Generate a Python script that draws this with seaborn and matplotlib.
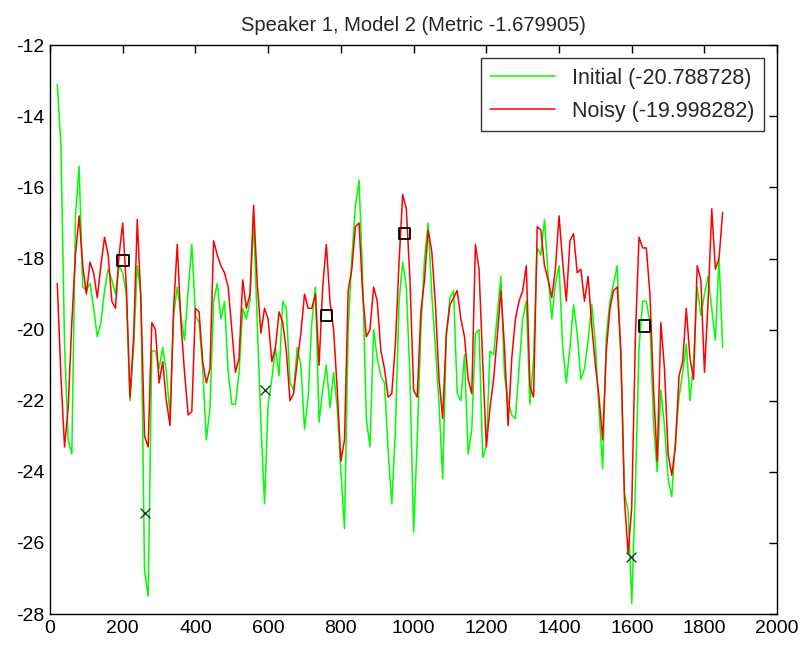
import numpy as np
import pandas as pd
import matplotlib
matplotlib.use("Agg")
import matplotlib.pyplot as plt
import seaborn as sns

# sample positions (frame index)
frames = np.arange(20, 1851, 10)

initial_vals = [
    -13.1, -14.8, -20.4, -23.1, -23.5, -16.8, -15.4, -18.8, -18.9, -18.7, -19.4, -20.2, -19.8, -18.9, -18.3, -18.6, -19.0, -18.2, -18.4, -19.0, -22.0,
    -20.5, -18.2, -19.0, -26.8, -27.5, -20.6, -20.6, -21.1, -20.5, -21.2, -22.4, -19.6, -18.8, -19.6, -20.3, -18.9, -17.6, -19.6, -19.8, -21.1, -23.1, -22.2, -19.2, -18.7, -19.7,
    -19.2, -21.2, -22.1, -22.1, -21.2, -19.4, -19.7, -19.2, -16.9, -19.8, -22.6, -24.9, -22.1, -21.4, -20.5, -21.3, -19.2, -19.4, -21.5, -21.7, -20.5, -21.0, -22.8, -21.9,
    -19.8, -18.8, -22.6, -21.7, -21.0, -22.2, -21.2, -22.2, -24.0, -25.6, -20.0, -18.0, -16.5, -15.8, -18.6, -22.5, -23.3, -20.0, -20.8, -21.3, -21.5, -23.4, -24.9, -22.8, -19.2,
    -18.1, -18.8, -21.3, -25.7, -23.1, -20.0, -18.0, -17.0, -19.0, -20.5, -22.1, -24.2, -20.2, -19.1, -18.9, -21.8, -22.0, -20.7, -23.5, -22.8, -20.1, -20.0, -23.6, -23.3, -20.6,
    -20.7, -19.6, -18.5, -21.3, -22.0, -22.4, -22.5, -21.1, -19.7, -19.2, -22.1, -20.8, -17.7, -17.9, -16.9, -18.5, -19.7, -18.7, -18.2, -20.5, -21.5, -20.5, -19.3, -20.1, -21.4,
    -21.1, -20.3, -19.3, -20.4, -22.3, -23.9, -20.2, -19.2, -18.7, -18.2, -20.8, -24.6, -25.1, -27.7, -24.4, -20.5, -19.2, -19.2, -19.8, -22.7, -24.0, -21.7, -22.7, -24.2, -24.7,
    -23.1, -21.9, -21.2, -20.4, -22.0, -20.9, -18.8, -19.6, -19.0, -18.5, -19.4, -20.3, -18.0, -20.5,
]

noisy_vals = [
    -18.7, -21.3, -23.3, -22.2, -19.8, -17.9, -16.8, -18.2, -19.0, -18.1, -18.4, -19.1, -18.2, -17.4, -17.9, -19.2, -19.4, -17.9, -17.0, -18.8, -21.9,
    -20.2, -16.9, -19.2, -23.0, -23.3, -19.8, -20.0, -21.5, -20.9, -22.0, -22.7, -19.4, -17.6, -19.8, -21.2, -22.4, -22.3, -19.4, -19.5, -20.9, -21.5, -21.1, -17.5, -17.9, -18.2,
    -18.4, -18.8, -20.0, -21.2, -20.8, -18.6, -19.4, -19.0, -16.5, -18.7, -20.1, -19.4, -19.7, -20.9, -20.5, -19.5, -19.8, -20.6, -22.0, -21.8, -20.9, -20.1, -19.0, -19.4,
    -19.4, -19.0, -21.0, -18.8, -17.6, -19.2, -20.0, -21.7, -23.7, -23.1, -18.9, -18.3, -17.1, -17.0, -19.0, -20.2, -20.0, -18.8, -19.2, -20.6, -21.1, -21.9, -21.8, -20.4, -18.1,
    -16.2, -16.6, -18.6, -21.7, -21.9, -19.5, -18.6, -17.2, -17.8, -19.3, -21.4, -22.5, -20.1, -19.3, -19.1, -18.9, -19.7, -20.2, -21.4, -21.8, -17.6, -18.3, -20.9, -23.3, -22.2,
    -21.4, -20.2, -18.9, -20.5, -22.7, -20.8, -19.7, -19.2, -18.9, -18.2, -21.6, -21.9, -17.1, -17.2, -18.2, -18.6, -19.1, -18.3, -16.8, -18.1, -19.2, -17.5, -17.3, -18.4, -18.3,
    -19.2, -18.5, -19.9, -21.0, -21.9, -23.1, -20.6, -19.4, -18.9, -18.8, -20.6, -24.8, -26.3, -25.0, -20.2, -17.4, -17.7, -17.7, -19.0, -21.7, -23.7, -19.8, -21.1, -23.5, -24.1,
    -23.3, -21.3, -20.9, -19.4, -20.8, -21.4, -18.2, -18.6, -21.2, -19.2, -16.6, -18.3, -18.0, -16.7,
]

# marked points
square_x = [200, 760, 975, 1635]
square_y = [-18.05, -19.6, -17.3, -19.9]
cross_x = [262, 590, 1598]
cross_y = [-25.15, -21.7, -26.4]

initial_score = -20.788728
noisy_score = -19.998282
metric = -1.679905

df = pd.DataFrame({"frame": frames, "initial": initial_vals, "noisy": noisy_vals})

sns.set_theme(style="white")
plt.rcParams["font.family"] = ["Liberation Sans", "DejaVu Sans"]
plt.rcParams["axes.unicode_minus"] = False

fig = plt.figure(figsize=(8, 6.47), dpi=100)
ax = fig.add_axes([0.0625, 0.051, 0.909, 0.879])

sns.lineplot(data=df, x="frame", y="initial", color="#00ff00", linewidth=1.1,
             label=f"Initial ({initial_score:.6f})", ax=ax)
sns.lineplot(data=df, x="frame", y="noisy", color="#ff0000", linewidth=1.1,
             label=f"Noisy ({noisy_score:.6f})", ax=ax)

sns.scatterplot(x=square_x, y=square_y, marker="s", s=70, facecolor="none",
                edgecolor="black", linewidth=1.3, ax=ax, zorder=5)
sns.scatterplot(x=cross_x, y=cross_y, marker="x", s=50, color="#333333",
                linewidth=1.0, ax=ax, zorder=5)

ax.set_xlim(0, 2000)
ax.set_ylim(-28, -12)
ax.set_xticks(range(0, 2001, 200))
ax.set_yticks(range(-28, -11, 2))
ax.set_xlabel("")
ax.set_ylabel("")
ax.set_title(f"Speaker 1, Model 2 (Metric {metric:.6f})", fontsize=14.5, pad=10)
ax.tick_params(direction="in", top=True, right=True, length=6, width=1,
               labelsize=14, colors="black", pad=4)
for sp in ax.spines.values():
    sp.set_color("black")
    sp.set_linewidth(1.0)

leg = ax.legend(loc="upper right", frameon=True, fancybox=False,
                edgecolor="black", borderaxespad=0.6, handlelength=3.0,
                labelspacing=0.55, borderpad=0.45,
                prop={"family": ["Liberation Sans", "DejaVu Sans"], "size": 15.5})
leg.get_frame().set_linewidth(1.0)

plt.savefig("out.png", dpi=100)
